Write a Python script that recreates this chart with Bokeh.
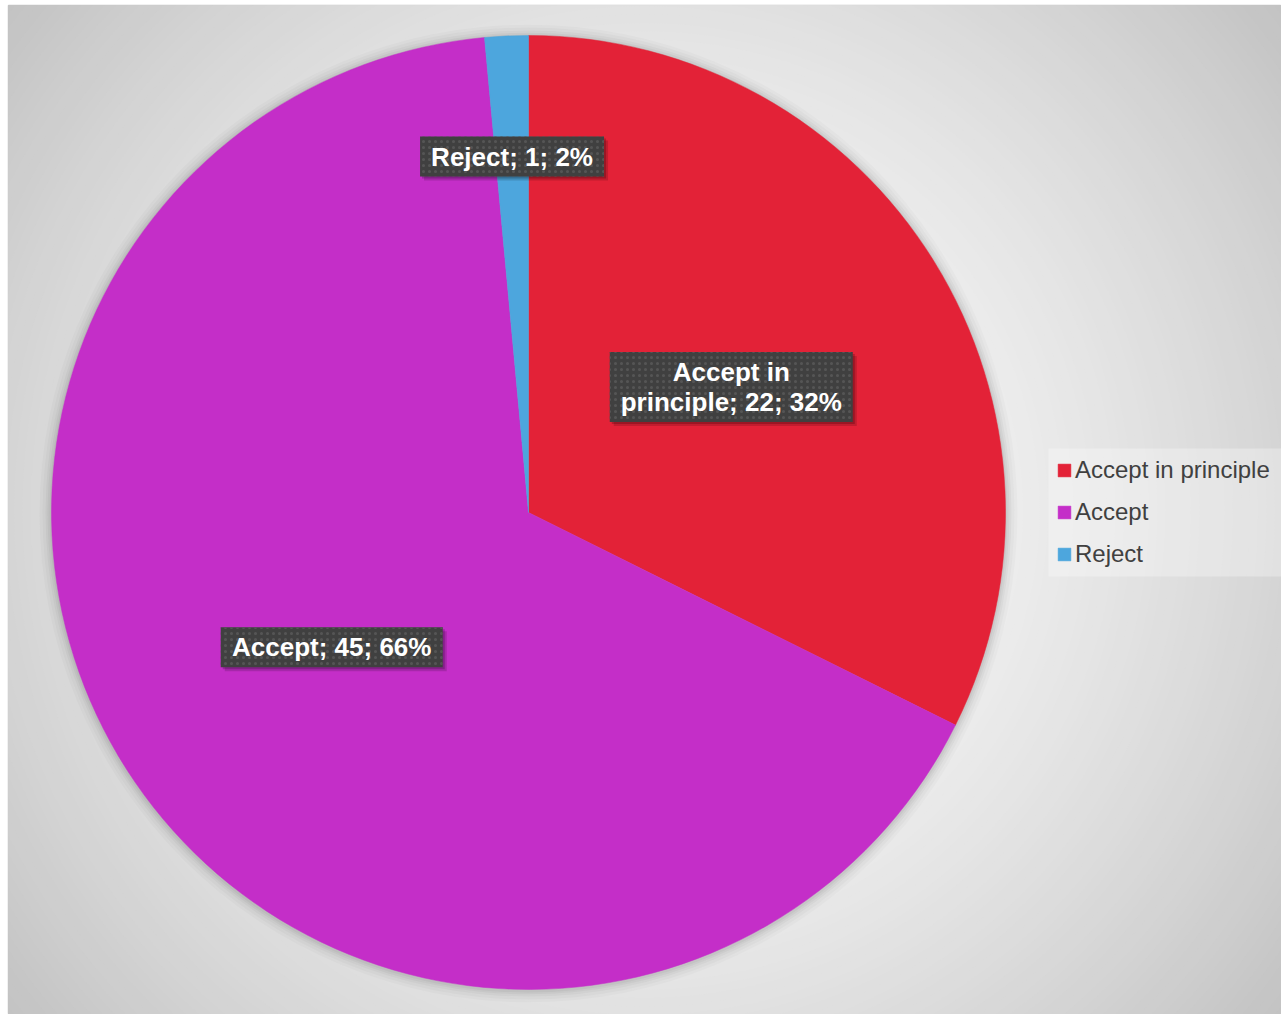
import math
import textwrap
from bokeh.plotting import figure
from bokeh.models import ColumnDataSource, Legend, LegendItem, Range1d
from bokeh.core.properties import value
from bokeh.embed import file_html
from bokeh.resources import INLINE

# ---- data ----
categories = ["Accept in principle", "Accept", "Reject"]
counts = [22, 45, 1]
percent_labels = [32, 66, 2]
colors = ["#E32237", "#C42EC8", "#4DA6DD"]

# ---- style ----
PW, PH = 1281, 1014
LEFT, TOP = 8, 5
W, H = PW - LEFT, PH - TOP            # frame size (1 data unit = 1 px)
cx, cy, R = 520, 502, 477
label_radius_frac = [0.5, 0.5, 0.747]
box_sizes = [(243, 70), (222, 40), (184, 40)]
FONT = "Liberation Sans"

p = figure(width=PW, height=PH, x_range=Range1d(0, W), y_range=Range1d(0, H),
           output_backend="svg", toolbar_location=None,
           min_border=0, min_border_left=LEFT, min_border_top=TOP,
           background_fill_color="#c4c4c4", border_fill_color="white",
           outline_line_color="#c6c6c6", outline_line_width=1.5)
p.xaxis.visible = False
p.yaxis.visible = False
p.grid.visible = False

# background radial gradient (concentric circles)
gx, gy = 636, 504
DMAX = 800
steps = 100
for i in range(steps, -1, -1):
    d = DMAX * 1.05 * i / steps
    t = d / 785
    g = int(round(255 - 57 * t ** 1.5))
    g = max(0, min(255, g))
    col = "#%02x%02x%02x" % (g, g, g)
    p.circle(x=gx, y=gy, radius=d + 0.5, fill_color=col, line_color=None)

# pie angles
total = sum(counts)
starts, ends, mids = [], [], []
a = math.pi / 2
for v in counts:
    sweep = 2 * math.pi * v / total
    starts.append(a)
    ends.append(a - sweep)
    mids.append(a - sweep / 2)
    a -= sweep

# soft shadow around pie
for k, al in [(12, 0.02), (9, 0.025), (6, 0.03), (4, 0.035), (2, 0.04)]:
    p.circle(x=cx, y=cy - 1, radius=R + k, fill_color="black", fill_alpha=al, line_color=None)

src = ColumnDataSource(dict(cat=categories, start=starts, end=ends, color=colors))
pie = p.wedge(x=cx, y=cy, radius=R, start_angle="start", end_angle="end", direction="clock",
              fill_color="color", line_color="color", line_width=0.5, source=src)

# data labels
lx, ly, texts, bw, bh = [], [], [], [], []
for i, c in enumerate(categories):
    r = R * label_radius_frac[i]
    lx.append(cx + r * math.cos(mids[i]))
    ly.append(cy + r * math.sin(mids[i]))
    s = f"{c}; {counts[i]}; {percent_labels[i]}%"
    texts.append("\n".join(textwrap.wrap(s, 18)))
    bw.append(box_sizes[i][0])
    bh.append(box_sizes[i][1])

lab = ColumnDataSource(dict(x=lx, y=ly, text=texts, w=bw, h=bh,
                            sx=[v + 4 for v in lx], sy=[v - 4 for v in ly],
                            sx2=[v + 2 for v in lx], sy2=[v - 2 for v in ly]))
p.rect(x="sx", y="sy", width="w", height="h", source=lab, fill_color="black", fill_alpha=0.15, line_color=None)
p.rect(x="sx2", y="sy2", width="w", height="h", source=lab, fill_color="black", fill_alpha=0.2, line_color=None)
p.rect(x="x", y="y", width="w", height="h", source=lab, fill_color="#404040", line_color=None,
       hatch_pattern="dot", hatch_color="#555555", hatch_scale=6, hatch_weight=1.2)
p.text(x="x", y="y", text="text", source=lab, text_align="center", text_baseline="middle",
       text_color="white", text_font=value(FONT), text_font_style="bold",
       text_font_size="26px", text_line_height=1.02)

# legend background panel
p.quad(left=1040, right=W, bottom=438, top=566, fill_color="white", fill_alpha=0.3, line_color=None)

# legend
items = [LegendItem(label=c, renderers=[pie], index=i) for i, c in enumerate(categories)]
legend = Legend(items=items, location=(1048, 446), orientation="vertical",
                label_text_font=FONT, label_text_font_size="24px", label_text_color="#404040",
                glyph_width=16, glyph_height=16, label_standoff=3, spacing=14,
                padding=10, margin=0,
                background_fill_alpha=0, border_line_color=None)
p.add_layout(legend, "center")

open("out.html", "w").write(file_html(p, INLINE))
